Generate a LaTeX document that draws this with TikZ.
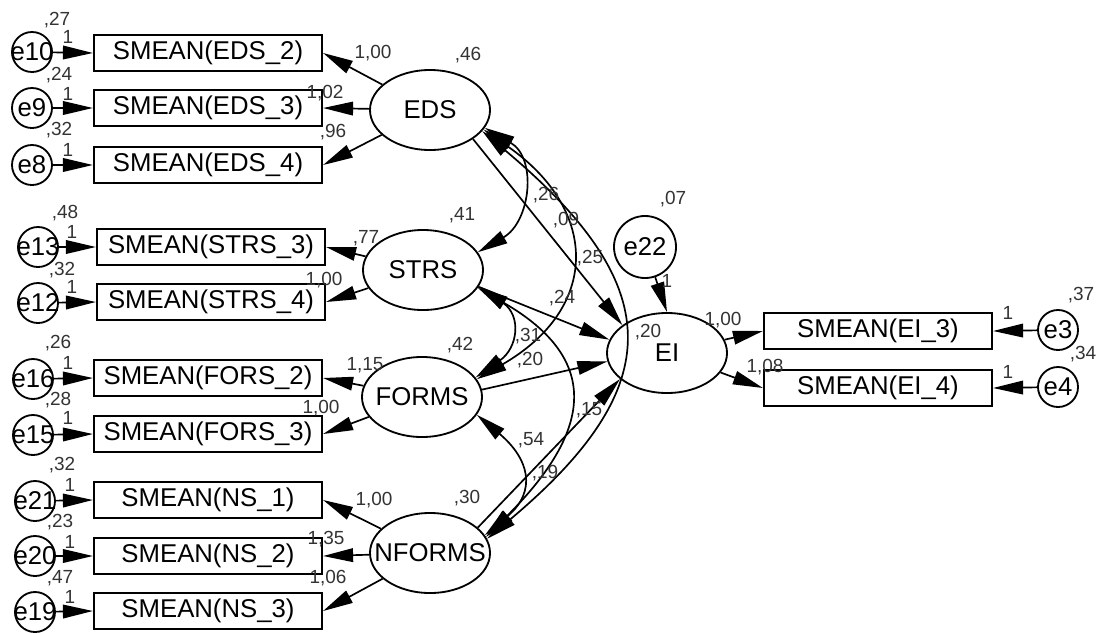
\documentclass[tikz,border=0pt]{standalone}
\usepackage{fontspec}
\setmainfont{Liberation Sans}
\usetikzlibrary{shapes.geometric,arrows.meta,positioning}

\begin{document}
\begin{tikzpicture}[
  x=0.025cm, y=0.025cm,
  obs/.style={
    draw,
    line width=1.5pt,
    minimum width=5.7cm,
    minimum height=0.92cm,
    inner sep=0pt,
    font=\fontsize{18.3}{20}\selectfont
  },
  lat/.style={
    ellipse,
    draw,
    line width=1.3pt,
    minimum width=3cm,
    minimum height=2cm,
    inner sep=0pt,
    font=\fontsize{18.3}{20}\selectfont
  },
  err/.style={
    circle,
    draw,
    line width=1.3pt,
    minimum size=1cm,
    inner sep=0pt,
    font=\fontsize{18.3}{20}\selectfont
  },
  est/.style={inner sep=0pt, text=black!80, font=\fontsize{13.5}{15}\selectfont},
  reg/.style={-{Triangle[length=7.5mm,width=3.4mm]}, line width=1.2pt},
  cov/.style={{Triangle[length=7.5mm,width=3.4mm]}-{Triangle[length=7.5mm,width=3.4mm]}, line width=1.2pt}
]
\useasboundingbox (0,0) rectangle (1096,-632);

% -------- Indicators --------
\node[obs] (eds2) at (208,-53) {SMEAN(EDS\_2)};
\node[obs] (eds3) at (208,-108) {SMEAN(EDS\_3)};
\node[obs] (eds4) at (208,-165) {SMEAN(EDS\_4)};
\node[obs] (strs3) at (211,-247) {SMEAN(STRS\_3)};
\node[obs] (strs4) at (211,-302) {SMEAN(STRS\_4)};
\node[obs] (fors2) at (208,-378) {SMEAN(FORS\_2)};
\node[obs] (fors3) at (208,-434) {SMEAN(FORS\_3)};
\node[obs] (ns1) at (208,-500) {SMEAN(NS\_1)};
\node[obs] (ns2) at (208,-556) {SMEAN(NS\_2)};
\node[obs] (ns3) at (208,-611) {SMEAN(NS\_3)};
\node[obs] (ei3) at (878,-331) {SMEAN(EI\_3)};
\node[obs] (ei4) at (878,-388) {SMEAN(EI\_4)};

% -------- Errors --------
\node[err] (e10) at (32,-52) {\makebox[0pt]{e10}};
\node[err] (e9) at (32,-108) {\makebox[0pt]{e9}};
\node[err] (e8) at (32,-165) {\makebox[0pt]{e8}};
\node[err] (e13) at (38,-247) {\makebox[0pt]{e13}};
\node[err] (e12) at (38,-303) {\makebox[0pt]{e12}};
\node[err] (e16) at (33,-379) {\makebox[0pt]{e16}};
\node[err] (e15) at (33,-435) {\makebox[0pt]{e15}};
\node[err] (e21) at (35,-501) {\makebox[0pt]{e21}};
\node[err] (e20) at (35,-556) {\makebox[0pt]{e20}};
\node[err] (e19) at (35,-612) {\makebox[0pt]{e19}};
\node[err] (e3) at (1058,-330) {\makebox[0pt]{e3}};
\node[err] (e4) at (1058,-387) {\makebox[0pt]{e4}};
\node[err, minimum size=1.55cm] (e22) at (645,-247) {\makebox[0pt]{e22}};

% -------- Latent variables --------
\node[lat] (EDS) at (430,-110) {\makebox[0pt]{EDS}};
\node[lat] (STRS) at (423,-270) {\makebox[0pt]{STRS}};
\node[lat] (FORMS) at (422,-397) {\makebox[0pt]{FORMS}};
\node[lat] (NFORMS) at (430,-553) {\makebox[0pt]{NFORMS}};
\node[lat] (EI) at (667,-353) {\makebox[0pt]{EI}};

% -------- Error arrows --------
\draw[reg] (e10) -- (eds2.west);
\draw[reg] (e9) -- (eds3.west);
\draw[reg] (e8) -- (eds4.west);
\draw[reg] (e13) -- (strs3.west);
\draw[reg] (e12) -- (strs4.west);
\draw[reg] (e16) -- (fors2.west);
\draw[reg] (e15) -- (fors3.west);
\draw[reg] (e21) -- (ns1.west);
\draw[reg] (e20) -- (ns2.west);
\draw[reg] (e19) -- (ns3.west);
\draw[reg] (e3) -- (ei3.east);
\draw[reg] (e4) -- (ei4.east);
\draw[reg] (e22) -- (EI.north);

% -------- Loadings --------
\draw[reg] (EDS) -- (eds2.east);
\draw[reg] (EDS) -- (eds3.east);
\draw[reg] (EDS) -- (eds4.east);
\draw[reg] (STRS) -- (strs3.east);
\draw[reg] (STRS) -- (strs4.east);
\draw[reg] (FORMS) -- (fors2.east);
\draw[reg] (FORMS) -- (fors3.east);
\draw[reg] (NFORMS) -- (ns1.east);
\draw[reg] (NFORMS) -- (ns2.east);
\draw[reg] (NFORMS) -- (ns3.east);
\draw[reg] (EI.13) -- (ei3.west);
\draw[reg] (EI.-20) -- (ei4.west);

% -------- Paths to EI --------
\draw[reg] (EDS.-34) -- (EI.148);
\draw[reg] (STRS.-17) -- (EI.167);
\draw[reg] (FORMS.7) -- (EI.-172);
\draw[reg] (NFORMS.28) -- (EI.-151);

% -------- Covariances --------
\draw[cov] (EDS.-18) to[out=-30, in=30, looseness=1.25] (STRS.18);
\draw[cov] (EDS.-20) to[out=-35, in=30, looseness=1.45] (FORMS.18);
\draw[cov] (EDS.-22) to[out=-40, in=40, looseness=1.5] (NFORMS.14);
\draw[cov] (STRS.-16) to[out=-35, in=35, looseness=1.45] (FORMS.20);
\draw[cov] (STRS.-18) to[out=-30, in=45, looseness=1.5] (NFORMS.16);
\draw[cov] (FORMS.-18) to[out=-40, in=40, looseness=1.45] (NFORMS.18);

% -------- Variances --------
\node[est] (v10) at (57,-20) {,27};
\node[est] (v9) at (59,-75) {,24};
\node[est] (v8) at (59,-130) {,32};
\node[est] (v13) at (65,-213) {,48};
\node[est] (v12) at (62,-270) {,32};
\node[est] (v16) at (58,-343) {,26};
\node[est] (v15) at (58,-400) {,28};
\node[est] (v21) at (62,-465) {,32};
\node[est] (v20) at (60,-522) {,23};
\node[est] (v19) at (60,-578) {,47};
\node[est] (v3) at (1081,-295) {,37};
\node[est] (v4) at (1083,-354) {,34};
\node[est] (v22) at (673,-199) {,07};
\node[est] (vEDS) at (468,-55) {,46};
\node[est] (vSTRS) at (462,-215) {,41};
\node[est] (vFORMS) at (460,-345) {,42};
\node[est] (vNFORMS) at (467,-498) {,30};
\node[est] (vEI) at (648,-332) {,20};

% -------- Fixed weights --------
\node[est] (f10) at (68,-37) {1};
\node[est] (f9) at (68,-94) {1};
\node[est] (f8) at (68,-150) {1};
\node[est] (f13) at (72,-232) {1};
\node[est] (f12) at (72,-287) {1};
\node[est] (f16) at (68,-363) {1};
\node[est] (f15) at (68,-418) {1};
\node[est] (f21) at (70,-485) {1};
\node[est] (f20) at (70,-542) {1};
\node[est] (f19) at (70,-597) {1};
\node[est] (f3) at (1008,-313) {1};
\node[est] (f4) at (1008,-372) {1};
\node[est] (f22) at (667,-281) {1};

% -------- Loading estimates --------
\node[est] (leds2) at (373,-53) {1,00};
\node[est] (leds3) at (325,-93) {1,02};
\node[est] (leds4) at (333,-132) {,96};
\node[est] (lstrs3) at (366,-238) {,77};
\node[est] (lstrs4) at (324,-280) {1,00};
\node[est] (lfors2) at (365,-365) {1,15};
\node[est] (lfors3) at (321,-408) {1,00};
\node[est] (lns1) at (374,-500) {1,00};
\node[est] (lns2) at (326,-539) {1,35};
\node[est] (lns3) at (328,-578) {1,06};
\node[est] (lei3) at (723,-320) {1,00};
\node[est] (lei4) at (765,-367) {1,08};

% -------- Path and covariance estimates --------
\node[est] (pEDS) at (590,-258) {,25};
\node[est] (pSTRS) at (562,-298) {,24};
\node[est] (pFORMS) at (530,-360) {,20};
\node[est] (pNFORMS) at (589,-410) {,15};
\node[est] (cES) at (546,-195) {,26};
\node[est] (cEF) at (566,-220) {,09};
\node[est] (cSF) at (528,-336) {,31};
\node[est] (cFN) at (531,-440) {,54};
\node[est] (cSN) at (545,-473) {,19};

\end{tikzpicture}
\end{document}
